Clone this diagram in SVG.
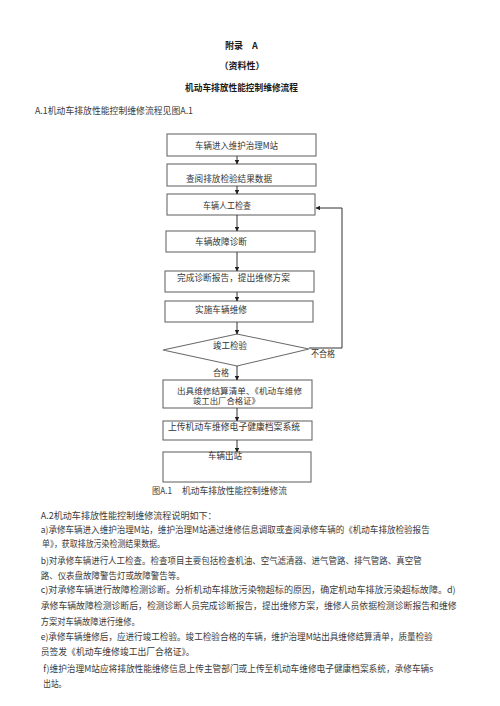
<svg xmlns="http://www.w3.org/2000/svg" width="500" height="706" viewBox="0 0 500 706">
<defs>
<style>
text{font-family:"Noto Sans CJK SC","Noto Sans",sans-serif;fill:#2a2a2a;font-size:9px}
.h{font-weight:bold;fill:#1a1a1a;text-anchor:middle}
.b{fill:#3a3a3a}
.box{fill:#fff;stroke:#6a6a6a;stroke-width:1.1}
.ln{fill:none;stroke:#333;stroke-width:1}
.lab{fill:#333;font-size:8.6px}
.sm{font-size:8px}
</style>
<marker id="ah" viewBox="0 0 10 10" refX="9" refY="5" markerWidth="4.5" markerHeight="4.5" orient="auto">
<path d="M0,0 L10,5 L0,10 z" fill="#222"/>
</marker>
</defs>
<rect width="500" height="706" fill="#fff"/>

<g id="header">
<text class="h" x="241.5" y="49">附录　A</text>
<text class="h" x="242" y="69">（资料性）</text>
<text class="h" x="241.5" y="90.5" textLength="113" lengthAdjust="spacingAndGlyphs">机动车排放性能控制维修流程</text>
<text class="b" x="35" y="114" textLength="158" lengthAdjust="spacingAndGlyphs">A.1机动车排放性能控制维修流程见图A.1</text>
</g>

<g id="n1"><rect class="box" x="167" y="134" width="149" height="22"/><text class="lab" x="195" y="149" textLength="83" lengthAdjust="spacingAndGlyphs">车辆进入维护治理M站</text></g>
<g id="n2"><rect class="box" x="167" y="164" width="149" height="22"/><text class="lab" x="186" y="182" textLength="86" lengthAdjust="spacingAndGlyphs">查阅排放检验结果数据</text></g>
<g id="n3"><rect class="box" x="167" y="194" width="148" height="21"/><text class="lab" x="203" y="209" textLength="48" lengthAdjust="spacingAndGlyphs">车辆人工检查</text></g>
<g id="n4"><rect class="box" x="166" y="231" width="149" height="21"/><text class="lab" x="195" y="245" textLength="52" lengthAdjust="spacingAndGlyphs">车辆故障诊断</text></g>
<g id="n5"><rect class="box" x="165" y="271" width="149" height="21"/><text class="lab" x="177" y="280.5" textLength="113" lengthAdjust="spacingAndGlyphs">完成诊断报告，提出维修方案</text></g>
<g id="n6"><rect class="box" x="165" y="301" width="148" height="21"/><text class="lab" x="195" y="312.5" textLength="52" lengthAdjust="spacingAndGlyphs">实施车辆维修</text></g>
<g id="n7"><path class="box" d="M163,350 L237,334 L309,349 L237,366 Z"/><text class="lab" x="213" y="348.5" textLength="34" lengthAdjust="spacingAndGlyphs">竣工检验</text></g>
<g id="n8"><rect class="box" x="163" y="380" width="149" height="28"/><text class="lab sm" x="177" y="393.5" textLength="125" lengthAdjust="spacingAndGlyphs">出具维修结算清单、《机动车维修</text><text class="lab sm" x="193" y="404" textLength="67" lengthAdjust="spacingAndGlyphs">竣工出厂合格证》</text></g>
<g id="n9"><rect class="box" x="163" y="421" width="149" height="19"/><text class="lab" x="168" y="429.5" textLength="132" lengthAdjust="spacingAndGlyphs">上传机动车维修电子健康档案系统</text></g>
<g id="n10"><rect class="box" x="163" y="452" width="148" height="30"/><text class="lab" x="208" y="459" textLength="34" lengthAdjust="spacingAndGlyphs">车辆出站</text></g>

<g id="connectors">
<line class="ln" x1="237" y1="156" x2="237" y2="164" marker-end="url(#ah)"/>
<line class="ln" x1="237" y1="186" x2="237" y2="194" marker-end="url(#ah)"/>
<line class="ln" x1="237" y1="215" x2="237" y2="231" marker-end="url(#ah)"/>
<line class="ln" x1="237" y1="252" x2="237" y2="271" marker-end="url(#ah)"/>
<line class="ln" x1="237" y1="292" x2="237" y2="301" marker-end="url(#ah)"/>
<line class="ln" x1="237" y1="322" x2="237" y2="334" marker-end="url(#ah)"/>
<line class="ln" x1="237" y1="366" x2="237" y2="380" marker-end="url(#ah)"/>
<line class="ln" x1="237" y1="408" x2="237" y2="421" marker-end="url(#ah)"/>
<line class="ln" x1="237" y1="440" x2="237" y2="452" marker-end="url(#ah)"/>
<polyline class="ln" points="309,348 342,348 342,208 316,208" marker-end="url(#ah)"/>
<text class="lab" x="213" y="376" textLength="16" lengthAdjust="spacingAndGlyphs">合格</text>
<text class="lab" x="311" y="357" textLength="24" lengthAdjust="spacingAndGlyphs">不合格</text>
</g>

<g id="caption">
<text class="b" x="152" y="494" textLength="20" lengthAdjust="spacingAndGlyphs">图A.1</text>
<text class="b" x="182" y="494" textLength="105" lengthAdjust="spacingAndGlyphs">机动车排放性能控制维修流</text>
</g>

<g id="body">
<text class="b" x="40.7" y="519" textLength="176" lengthAdjust="spacingAndGlyphs">A.2机动车排放性能控制维修流程说明如下：</text>
<text class="b" x="40.7" y="532.5" textLength="389" lengthAdjust="spacingAndGlyphs">a)承修车辆进入维护治理M站，维护治理M站通过维修信息调取或查阅承修车辆的《机动车排放检验报告</text>
<text class="b" x="42" y="546.5" textLength="123" lengthAdjust="spacingAndGlyphs">单》，获取排放污染检测结果数据。</text>
<text class="b" x="40.7" y="564" textLength="381" lengthAdjust="spacingAndGlyphs">b)对承修车辆进行人工检查。检查项目主要包括检查机油、空气滤清器、进气管路、排气管路、真空管</text>
<text class="b" x="40.7" y="579" textLength="144" lengthAdjust="spacingAndGlyphs">路、仪表盘故障警告灯或故障警告等。</text>
<text class="b" x="40.7" y="593" textLength="415" lengthAdjust="spacingAndGlyphs">c)对承修车辆进行故障检测诊断。分析机动车排放污染物超标的原因，确定机动车排放污染超标故障。d)</text>
<text class="b" x="40.7" y="609" textLength="416" lengthAdjust="spacingAndGlyphs">承修车辆故障检测诊断后，检测诊断人员完成诊断报告，提出维修方案，维修人员依据检测诊断报告和维修</text>
<text class="b" x="40.7" y="625" textLength="99" lengthAdjust="spacingAndGlyphs">方案对车辆故障进行维修。</text>
<text class="b" x="40.7" y="640" textLength="392" lengthAdjust="spacingAndGlyphs">e)承修车辆维修后，应进行竣工检验。竣工检验合格的车辆，维护治理M站出具维修结算清单，质量检验</text>
<text class="b" x="40.7" y="655" textLength="154" lengthAdjust="spacingAndGlyphs">员签发《机动车维修竣工出厂合格证》。</text>
<text class="b" x="43.3" y="671.5" textLength="390" lengthAdjust="spacingAndGlyphs">f)维护治理M站应将排放性能维修信息上传主管部门或上传至机动车维修电子健康档案系统，承修车辆s</text>
<text class="b" x="43.3" y="686.5" textLength="23" lengthAdjust="spacingAndGlyphs">出站。</text>
</g>
</svg>
